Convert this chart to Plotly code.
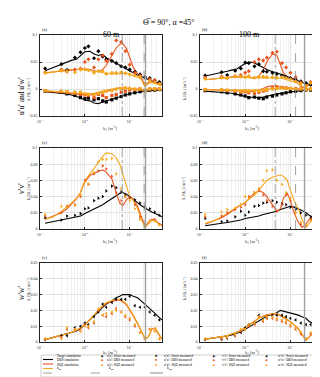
import plotly.graph_objects as go

# wavenumber grids [1/m]
k_sim = [0.0013, 0.002, 0.003, 0.004, 0.005, 0.0065, 0.008, 0.01, 0.013, 0.016, 0.02, 0.025, 0.03, 0.04,
         0.05, 0.06, 0.07, 0.085, 0.1, 0.12, 0.15, 0.18, 0.22, 0.26, 0.31, 0.37, 0.44, 0.52]
k_meas = [0.0013, 0.003, 0.004, 0.006, 0.008, 0.01, 0.012, 0.016, 0.02, 0.025, 0.03, 0.04, 0.05, 0.065,
          0.08, 0.1, 0.13, 0.17, 0.22, 0.28, 0.36, 0.46]

# (a) 60 m, u'u' and u'w'
a_tgt_uu = [0.034, 0.040, 0.047, 0.051, 0.053, 0.055, 0.062, 0.069, 0.070, 0.065, 0.062, 0.064, 0.058, 0.052,
            0.047, 0.044, 0.041, 0.037, 0.034, 0.030, 0.026, 0.023, 0.020, 0.018, 0.015, 0.013, 0.011, 0.009]
a_dbs_uu = [0.030, 0.032, 0.034, 0.035, 0.035, 0.036, 0.037, 0.037, 0.036, 0.034, 0.032, 0.036, 0.044, 0.062,
            0.076, 0.083, 0.084, 0.075, 0.058, 0.040, 0.028, 0.022, 0.005, 0.012, 0.014, 0.012, 0.009, 0.007]
a_sqz_uu = [0.029, 0.031, 0.034, 0.036, 0.036, 0.037, 0.036, 0.035, 0.034, 0.033, 0.032, 0.030, 0.029, 0.028,
            0.028, 0.028, 0.028, 0.029, 0.027, 0.025, 0.022, 0.018, 0.005, 0.010, 0.012, 0.010, 0.008, 0.006]
a_tgt_uw = [-0.005, -0.006, -0.008, -0.009, -0.011, -0.013, -0.016, -0.021, -0.022, -0.026, -0.027, -0.024, -0.022, -0.019,
            -0.017, -0.015, -0.013, -0.011, -0.009, -0.007, -0.006, -0.005, -0.004, -0.003, -0.003, -0.002, -0.002, -0.002]
a_dbs_uw = [-0.004, -0.005, -0.006, -0.007, -0.008, -0.009, -0.010, -0.011, -0.011, -0.010, -0.008, -0.005, -0.003, -0.001,
            0.001, 0.002, 0.002, 0.002, 0.001, 0.000, -0.001, -0.002, -0.004, 0.000, -0.001, -0.001, -0.001, -0.001]
a_sqz_uw = [-0.003, -0.004, -0.005, -0.006, -0.007, -0.008, -0.009, -0.009, -0.009, -0.008, -0.006, -0.004, -0.002, 0.000,
            0.001, 0.001, 0.001, 0.001, 0.000, 0.000, 0.000, -0.001, -0.003, 0.000, 0.000, 0.000, 0.000, 0.000]
a_son_uu = [0.038, 0.046, 0.035, 0.058, 0.068, 0.076, 0.079, 0.057, 0.070, 0.060, 0.055, 0.052, 0.048, 0.042,
            0.040, 0.036, 0.032, 0.027, 0.022, 0.020, 0.016, 0.013]
a_dbsm_uu = [0.031, 0.036, 0.032, 0.036, 0.038, 0.050, 0.055, 0.040, 0.055, 0.062, 0.052, 0.065, 0.090, 0.087,
             0.070, 0.045, 0.030, 0.025, 0.010, 0.018, 0.016, 0.010]
a_sqzm_uu = [0.030, 0.034, 0.033, 0.031, 0.036, 0.037, 0.035, 0.030, 0.033, 0.033, 0.028, 0.030, 0.030, 0.031,
             0.029, 0.027, 0.025, 0.022, 0.008, 0.015, 0.012, 0.009]
a_son_uw = [-0.004, -0.006, -0.009, -0.012, -0.016, -0.018, -0.017, -0.020, -0.018, -0.022, -0.024, -0.020, -0.017, -0.014,
            -0.011, -0.009, -0.007, -0.005, -0.003, -0.002, -0.002, -0.001]
a_dbsm_uw = [-0.003, -0.005, -0.006, -0.008, -0.010, -0.011, -0.012, -0.016, -0.010, -0.012, -0.016, -0.012, -0.010, -0.006,
             -0.004, -0.002, -0.001, 0.000, -0.003, 0.000, 0.000, 0.000]
a_sqzm_uw = [-0.003, -0.004, -0.005, -0.006, -0.006, -0.009, -0.010, -0.010, -0.008, -0.006, -0.004, -0.003, 0.000, 0.001,
             0.002, 0.001, 0.000, 0.000, -0.002, 0.000, 0.000, 0.000]

# (b) 100 m, u'u' and u'w'
b_tgt_uu = [0.024, 0.027, 0.031, 0.033, 0.035, 0.037, 0.042, 0.047, 0.050, 0.048, 0.044, 0.039, 0.036, 0.032,
            0.030, 0.028, 0.026, 0.023, 0.021, 0.018, 0.015, 0.012, 0.010, 0.008, 0.007, 0.006, 0.005, 0.004]
b_dbs_uu = [0.017, 0.019, 0.021, 0.022, 0.022, 0.023, 0.023, 0.022, 0.021, 0.020, 0.024, 0.035, 0.050, 0.065,
            0.062, 0.045, 0.030, 0.022, 0.020, 0.016, 0.010, 0.003, 0.004, 0.009, 0.011, 0.008, 0.005, 0.003]
b_sqz_uu = [0.017, 0.019, 0.021, 0.022, 0.022, 0.023, 0.023, 0.022, 0.021, 0.021, 0.021, 0.021, 0.020, 0.020,
            0.020, 0.020, 0.019, 0.017, 0.015, 0.013, 0.010, 0.005, 0.003, 0.007, 0.010, 0.008, 0.005, 0.003]
b_tgt_uw = [-0.004, -0.005, -0.006, -0.007, -0.008, -0.010, -0.012, -0.014, -0.015, -0.016, -0.016, -0.015, -0.013, -0.011,
            -0.009, -0.008, -0.007, -0.006, -0.005, -0.004, -0.003, -0.002, -0.002, -0.001, -0.001, -0.001, 0.000, 0.000]
b_dbs_uw = [-0.001, -0.002, -0.002, -0.003, -0.003, -0.003, -0.004, -0.005, -0.005, -0.004, -0.002, 0.001, 0.004, 0.006,
            0.005, 0.003, 0.002, 0.002, 0.002, 0.001, 0.000, -0.001, -0.001, 0.000, 0.000, 0.000, 0.000, 0.000]
b_sqz_uw = [-0.001, -0.002, -0.002, -0.002, -0.002, -0.003, -0.003, -0.003, -0.003, -0.003, -0.002, -0.001, 0.000, 0.001,
            0.001, 0.001, 0.001, 0.001, 0.001, 0.000, 0.000, -0.001, -0.001, 0.000, 0.000, 0.000, 0.000, 0.000]
b_son_uu = [0.025, 0.031, 0.026, 0.034, 0.038, 0.049, 0.048, 0.042, 0.046, 0.033, 0.032, 0.030, 0.028, 0.025,
            0.022, 0.020, 0.018, 0.014, 0.011, 0.008, 0.006, 0.004]
b_dbsm_uu = [0.021, 0.023, 0.020, 0.024, 0.026, 0.030, 0.033, 0.050, 0.055, 0.053, 0.058, 0.067, 0.069, 0.048,
             0.040, 0.030, 0.022, 0.012, 0.006, 0.013, 0.009, 0.005]
b_sqzm_uu = [0.019, 0.021, 0.020, 0.024, 0.023, 0.022, 0.024, 0.021, 0.022, 0.023, 0.022, 0.022, 0.021, 0.022,
             0.020, 0.018, 0.014, 0.010, 0.005, 0.011, 0.008, 0.004]
b_son_uw = [-0.003, -0.005, -0.007, -0.009, -0.011, -0.013, -0.016, -0.015, -0.017, -0.018, -0.015, -0.013, -0.011, -0.009,
            -0.007, -0.005, -0.004, -0.003, -0.002, -0.002, -0.001, -0.001]
b_dbsm_uw = [-0.001, -0.002, -0.003, -0.004, -0.006, -0.005, -0.007, -0.008, -0.006, -0.004, -0.002, 0.002, 0.004, 0.003,
             0.002, 0.001, 0.001, 0.000, -0.001, 0.000, 0.000, 0.000]
b_sqzm_uw = [-0.001, -0.002, -0.002, -0.003, -0.004, -0.003, -0.004, -0.004, -0.003, -0.002, -0.001, 0.000, 0.001, 0.002,
             0.001, 0.001, 0.000, 0.000, -0.001, 0.000, 0.000, 0.000]

# (c) 60 m, v'v'
c_tgt = [0.007, 0.009, 0.011, 0.012, 0.013, 0.015, 0.016, 0.019, 0.022, 0.024, 0.027, 0.030, 0.033, 0.037,
         0.041, 0.044, 0.045, 0.043, 0.040, 0.036, 0.032, 0.029, 0.026, 0.023, 0.021, 0.019, 0.017, 0.015]
c_dbs = [0.012, 0.016, 0.020, 0.025, 0.030, 0.037, 0.045, 0.058, 0.066, 0.069, 0.071, 0.073, 0.070, 0.062,
         0.045, 0.032, 0.029, 0.036, 0.040, 0.037, 0.028, 0.015, 0.003, 0.008, 0.012, 0.011, 0.007, 0.005]
c_sqz = [0.012, 0.015, 0.022, 0.027, 0.032, 0.038, 0.045, 0.060, 0.068, 0.075, 0.082, 0.090, 0.094, 0.093,
         0.088, 0.080, 0.068, 0.050, 0.040, 0.035, 0.025, 0.012, 0.002, 0.006, 0.011, 0.010, 0.006, 0.004]
c_son = [0.014, 0.011, 0.016, 0.017, 0.019, 0.025, 0.026, 0.035, 0.038, 0.040, 0.047, 0.053, 0.051, 0.046,
         0.042, 0.039, 0.036, 0.032, 0.027, 0.025, 0.021, 0.017]
c_dbsm = [0.016, 0.020, 0.028, 0.030, 0.040, 0.060, 0.055, 0.068, 0.072, 0.078, 0.074, 0.065, 0.045, 0.035,
          0.040, 0.038, 0.030, 0.015, 0.005, 0.010, 0.012, 0.006]
c_sqzm = [0.018, 0.028, 0.027, 0.029, 0.042, 0.058, 0.056, 0.070, 0.083, 0.086, 0.086, 0.087, 0.068, 0.050,
          0.040, 0.035, 0.025, 0.012, 0.004, 0.010, 0.010, 0.005]

# (d) 100 m, v'v'
d_tgt = [0.004, 0.006, 0.007, 0.008, 0.009, 0.010, 0.011, 0.013, 0.014, 0.015, 0.016, 0.018, 0.019, 0.021,
         0.022, 0.024, 0.025, 0.027, 0.028, 0.027, 0.025, 0.023, 0.020, 0.017, 0.015, 0.013, 0.011, 0.010]
d_dbs = [0.006, 0.010, 0.014, 0.018, 0.022, 0.027, 0.030, 0.032, 0.040, 0.044, 0.047, 0.045, 0.040, 0.030,
         0.022, 0.025, 0.038, 0.044, 0.035, 0.020, 0.008, 0.002, 0.006, 0.012, 0.013, 0.010, 0.005, 0.003]
d_sqz = [0.007, 0.010, 0.015, 0.019, 0.023, 0.027, 0.030, 0.033, 0.038, 0.042, 0.048, 0.055, 0.060, 0.064,
         0.066, 0.067, 0.065, 0.060, 0.048, 0.035, 0.025, 0.012, 0.002, 0.007, 0.012, 0.010, 0.006, 0.004]
d_son = [0.013, 0.009, 0.010, 0.015, 0.022, 0.017, 0.021, 0.028, 0.029, 0.032, 0.033, 0.035, 0.033, 0.031,
         0.030, 0.027, 0.024, 0.020, 0.017, 0.014, 0.012, 0.010]
d_dbsm = [0.015, 0.016, 0.020, 0.024, 0.027, 0.030, 0.040, 0.045, 0.048, 0.042, 0.035, 0.028, 0.022, 0.030,
          0.042, 0.035, 0.020, 0.006, 0.004, 0.012, 0.011, 0.005]
d_sqzm = [0.018, 0.021, 0.024, 0.026, 0.030, 0.040, 0.038, 0.045, 0.050, 0.060, 0.072, 0.073, 0.060, 0.055,
          0.045, 0.038, 0.020, 0.008, 0.004, 0.010, 0.009, 0.004]

# (e) 60 m, w'w'
e_tgt = [0.0015, 0.0028, 0.004, 0.005, 0.006, 0.007, 0.0085, 0.011, 0.014, 0.016, 0.019, 0.022, 0.024, 0.026,
         0.028, 0.029, 0.030, 0.030, 0.030, 0.029, 0.028, 0.026, 0.024, 0.022, 0.020, 0.018, 0.016, 0.014]
e_dbs = [0.0014, 0.0029, 0.0044, 0.005, 0.006, 0.0074, 0.0088, 0.011, 0.014, 0.017, 0.020, 0.0228, 0.0245, 0.0255,
         0.0265, 0.0265, 0.0255, 0.0235, 0.0205, 0.0165, 0.0115, 0.0068, 0.002, 0.0032, 0.0082, 0.0088, 0.0048, 0.002]
e_sqz = [0.0015, 0.003, 0.0045, 0.005, 0.006, 0.0075, 0.009, 0.011, 0.014, 0.017, 0.020, 0.023, 0.025, 0.026,
         0.027, 0.027, 0.026, 0.024, 0.021, 0.017, 0.012, 0.007, 0.002, 0.003, 0.008, 0.009, 0.005, 0.002]
e_son = [0.0015, 0.004, 0.004, 0.009, 0.010, 0.012, 0.011, 0.016, 0.019, 0.024, 0.022, 0.025, 0.027, 0.027,
         0.027, 0.029, 0.023, 0.022, 0.022, 0.019, 0.017, 0.014]
e_dbsm = [0.002, 0.003, 0.008, 0.008, 0.007, 0.011, 0.009, 0.012, 0.020, 0.017, 0.016, 0.018, 0.021, 0.019,
          0.016, 0.014, 0.010, 0.006, 0.002, 0.008, 0.007, 0.002]
e_sqzm = [0.002, 0.002, 0.009, 0.008, 0.007, 0.010, 0.010, 0.013, 0.021, 0.017, 0.018, 0.019, 0.020, 0.019,
          0.017, 0.015, 0.011, 0.006, 0.002, 0.008, 0.007, 0.002]

# (f) 100 m, w'w'
f_tgt = [0.0018, 0.0025, 0.0032, 0.0038, 0.0045, 0.0055, 0.0065, 0.008, 0.010, 0.012, 0.0135, 0.0155, 0.0165, 0.0175,
         0.0185, 0.020, 0.0195, 0.019, 0.0185, 0.018, 0.017, 0.016, 0.015, 0.013, 0.012, 0.011, 0.0095, 0.0085]
f_dbs = [0.0017, 0.0025, 0.0033, 0.004, 0.005, 0.006, 0.0072, 0.0092, 0.0112, 0.0132, 0.0152, 0.0162, 0.0172, 0.0178,
         0.0176, 0.0166, 0.0156, 0.0142, 0.0128, 0.0108, 0.0083, 0.0048, 0.0012, 0.0032, 0.0058, 0.0058, 0.0028, 0.001]
f_sqz = [0.0018, 0.0025, 0.0033, 0.004, 0.005, 0.006, 0.007, 0.009, 0.011, 0.013, 0.015, 0.016, 0.017, 0.018,
         0.018, 0.017, 0.016, 0.0145, 0.013, 0.011, 0.0085, 0.005, 0.001, 0.003, 0.006, 0.006, 0.003, 0.001]
f_son = [0.0015, 0.0017, 0.0025, 0.004, 0.006, 0.009, 0.011, 0.012, 0.017, 0.014, 0.016, 0.017, 0.017, 0.017,
         0.016, 0.015, 0.014, 0.012, 0.011, 0.011, 0.010, 0.009]
f_dbsm = [0.002, 0.002, 0.003, 0.004, 0.007, 0.008, 0.010, 0.011, 0.016, 0.013, 0.015, 0.015, 0.014, 0.013,
          0.012, 0.010, 0.008, 0.005, 0.002, 0.005, 0.004, 0.001]
f_sqzm = [0.002, 0.003, 0.003, 0.005, 0.008, 0.008, 0.011, 0.012, 0.016, 0.014, 0.016, 0.016, 0.015, 0.014,
          0.013, 0.011, 0.009, 0.006, 0.002, 0.006, 0.005, 0.002]

# characteristic wavenumbers (60 m, 100 m)
k_m1 = [0.068, 0.046]
k_m2 = [0.21, 0.13]
k_max = [0.225, 0.205]

heights = ["60 m", "100 m"]
panel_tags = ["(a)", "(b)", "(c)", "(d)", "(e)", "(f)"]
row_names = ["u′u′ and u′w′", "v′v′", "w′w′"]

BLACK = "#000000"
DBS = "#E8561F"
SQZ = "#F4A81D"
VLINE = "#8a8a8a"
KMAX = "#a0a0a0"
FONT = "Liberation Serif"
TXT = "#000000"

W, H = 320, 377

# minor grid positions for the log axis
minor_vals = [m * 10 ** e for e in (-3, -2, -1) for m in range(2, 10)]


def px(x):
    return x / W


def py(y):
    return 1 - y / H


x_doms = [[px(32), px(154)], [px(192), px(315)]]
y_doms = [[py(108), py(27)], [py(221), py(140)], [py(334), py(255)]]
y_ranges = [[-0.05, 0.1], [0, 0.1], [0, 0.05]]
y_dticks = [0.05, 0.02, 0.01]
xtitle_shift = [-7, -7, -5]

panels = [
    ([(a_tgt_uu, BLACK), (a_dbs_uu, DBS), (a_sqz_uu, SQZ), (a_tgt_uw, BLACK), (a_dbs_uw, DBS), (a_sqz_uw, SQZ)],
     [(a_son_uu, BLACK, "diamond"), (a_dbsm_uu, DBS, "diamond"), (a_sqzm_uu, SQZ, "diamond"),
      (a_son_uw, BLACK, "square"), (a_dbsm_uw, DBS, "square"), (a_sqzm_uw, SQZ, "square")]),
    ([(b_tgt_uu, BLACK), (b_dbs_uu, DBS), (b_sqz_uu, SQZ), (b_tgt_uw, BLACK), (b_dbs_uw, DBS), (b_sqz_uw, SQZ)],
     [(b_son_uu, BLACK, "diamond"), (b_dbsm_uu, DBS, "diamond"), (b_sqzm_uu, SQZ, "diamond"),
      (b_son_uw, BLACK, "square"), (b_dbsm_uw, DBS, "square"), (b_sqzm_uw, SQZ, "square")]),
    ([(c_tgt, BLACK), (c_dbs, DBS), (c_sqz, SQZ)],
     [(c_son, BLACK, "triangle-right"), (c_dbsm, DBS, "triangle-right"), (c_sqzm, SQZ, "triangle-right")]),
    ([(d_tgt, BLACK), (d_dbs, DBS), (d_sqz, SQZ)],
     [(d_son, BLACK, "triangle-right"), (d_dbsm, DBS, "triangle-right"), (d_sqzm, SQZ, "triangle-right")]),
    ([(e_tgt, BLACK), (e_dbs, DBS), (e_sqz, SQZ)],
     [(e_son, BLACK, "triangle-left"), (e_dbsm, DBS, "triangle-left"), (e_sqzm, SQZ, "triangle-left")]),
    ([(f_tgt, BLACK), (f_dbs, DBS), (f_sqz, SQZ)],
     [(f_son, BLACK, "triangle-left"), (f_dbsm, DBS, "triangle-left"), (f_sqzm, SQZ, "triangle-left")]),
]

fig = go.Figure()
annotations = []
shapes = []


def note(text, x, y, size, **kw):
    d = dict(text=text, x=x, y=y, xref="paper", yref="paper", showarrow=False,
             font=dict(size=size, family=FONT, color=kw.pop("color", TXT)))
    d.update(kw)
    annotations.append(d)


for i, (sims, meas) in enumerate(panels):
    n = i + 1
    row, col = i // 2, i % 2
    xa = "x" if n == 1 else "x%d" % n
    ya = "y" if n == 1 else "y%d" % n

    for y, color in sims:
        fig.add_trace(go.Scatter(x=k_sim, y=y, mode="lines", line=dict(color=color, width=1.1),
                                 xaxis=xa, yaxis=ya, showlegend=False, hoverinfo="skip"))
    for y, color, sym in meas:
        fig.add_trace(go.Scatter(x=k_meas, y=y, mode="markers",
                                 marker=dict(color=color, symbol=sym, size=3.2, line=dict(width=0)),
                                 xaxis=xa, yaxis=ya, showlegend=False, hoverinfo="skip"))

    # vertical reference wavenumbers
    lines = [(k_max[col], "solid", 1.4, KMAX)]
    if row < 2:
        lines = [(k_m1[col], "dashdot", 0.8, VLINE), (k_m2[col], "dash", 0.8, VLINE)] + lines
    for kx, dash, w, c in lines:
        shapes.append(dict(type="line", xref=xa, yref=ya + " domain", x0=kx, x1=kx, y0=0, y1=1,
                           line=dict(color=c, width=w, dash=dash), layer="above"))

    axis_common = dict(showline=True, linecolor="#222", linewidth=0.6, mirror=True, ticks="inside",
                       ticklen=2, tickwidth=0.5, tickcolor="#222", gridcolor="#e2e2e2", gridwidth=0.5,
                       zeroline=False, tickfont=dict(size=4, family=FONT, color="#333"))
    fig.update_layout(**{
        ("xaxis" if n == 1 else "xaxis%d" % n): dict(
            axis_common, type="log", range=[-3, -0.28], domain=x_doms[col], anchor=ya,
            tickvals=[0.001, 0.01, 0.1], ticktext=["10<sup>-3</sup>", "10<sup>-2</sup>", "10<sup>-1</sup>"],
            minor=dict(tickmode="array", tickvals=minor_vals, showgrid=True, gridcolor="#f0f0f0",
                       gridwidth=0.5, ticks=""),
            ticklabelstandoff=1),
        ("yaxis" if n == 1 else "yaxis%d" % n): dict(
            axis_common, range=y_ranges[row], dtick=y_dticks[row], domain=y_doms[row], anchor=xa,
            ticklabelstandoff=1),
    })

    x0, x1 = x_doms[col]
    y0, y1 = y_doms[row]
    note(panel_tags[i], x0, y1, 4.5, xanchor="left", yanchor="bottom", yshift=1)
    note("k<sub>1</sub> [m<sup>-1</sup>]", (x0 + x1) / 2, y0, 4.5, yanchor="top", yshift=xtitle_shift[row],
         color="#333")
    note("k<sub>1</sub>F(k<sub>1</sub>) [m<sup>2</sup>s<sup>-2</sup>]", x0, (y0 + y1) / 2, 3.8,
         xshift=-16, textangle=-90, color="#333")

for r, name in enumerate(row_names):
    y0, y1 = y_doms[r]
    note(name, px(7), (y0 + y1) / 2, 7.5, textangle=-90)

for c, h in enumerate(heights):
    x0, x1 = x_doms[c]
    note(h, (x0 + x1) / 2, py(20), 8)

note("\u0398\u0305 = 90°, α =45°", 0.5, py(8), 8)

# legend, drawn by hand to fit the compact box
legend_rows = [
    ["Target simulation", "u′u′: Sonic measured", "u′w′: Sonic measured", "v′v′: Sonic measured", "w′w′: Sonic measured"],
    ["DBS simulation", "u′u′: DBS measured", "u′w′: DBS measured", "v′v′: DBS measured", "w′w′: DBS measured"],
    ["SQZ simulation", "u′u′: SQZ measured", "u′w′: SQZ measured", "v′v′: SQZ measured", "w′w′: SQZ measured"],
]
legend_colors = [BLACK, DBS, SQZ]
legend_glyphs = ["◆", "■", "▶", "◀"]
col_mark_x = [91, 148, 206, 262]
row_y = [351.5, 356, 360.5, 365]

shapes.append(dict(type="rect", xref="paper", yref="paper", x0=px(33), x1=px(315), y0=py(369), y1=py(347),
                   line=dict(color="#b0b0b0", width=0.6), fillcolor="white", layer="below"))

for r, labels in enumerate(legend_rows):
    yy = py(row_y[r])
    color = legend_colors[r]
    shapes.append(dict(type="line", xref="paper", yref="paper", x0=px(35), x1=px(45), y0=yy, y1=yy,
                       line=dict(color=color, width=1.1)))
    note(labels[0], px(47), yy, 3.4, xanchor="left")
    for j, lab in enumerate(labels[1:]):
        note(legend_glyphs[j], px(col_mark_x[j]), yy, 3.4, color=color)
        note(lab, px(col_mark_x[j] + 6), yy, 3.4, xanchor="left")

yy = py(row_y[3])
for (xa0, xa1, tx, dash, w, c, lab) in [(35, 45, 47, "dashdot", 0.8, VLINE, "k<sub>m1</sub>"),
                                        (83, 97, 99, "dash", 0.8, VLINE, "k<sub>m2</sub>"),
                                        (142, 155, 157, "solid", 1.2, KMAX, "k<sub>max</sub>")]:
    shapes.append(dict(type="line", xref="paper", yref="paper", x0=px(xa0), x1=px(xa1), y0=yy, y1=yy,
                       line=dict(color=c, width=w, dash=dash)))
    note(lab, px(tx), yy, 3.4, xanchor="left")

fig.update_layout(autosize=False, width=W, height=H, margin=dict(l=0, r=0, t=0, b=0),
                  template="none", paper_bgcolor="white", plot_bgcolor="white", showlegend=False,
                  font=dict(family=FONT, color=TXT),
                  annotations=annotations, shapes=shapes)

fig.write_html("out.html")
